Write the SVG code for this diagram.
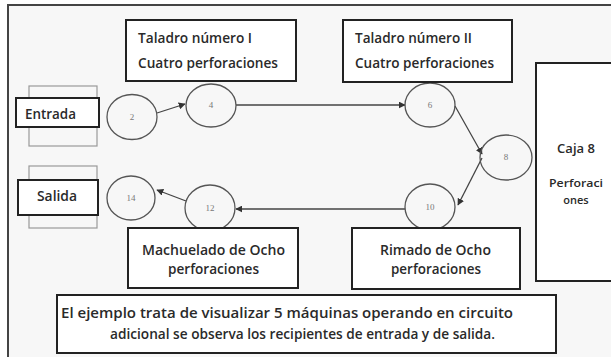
<svg xmlns="http://www.w3.org/2000/svg" width="611" height="357" viewBox="0 0 611 357">
<style>
.box{fill:#fff;stroke:#222;stroke-width:2}
.ghost{fill:none;stroke:#999;stroke-width:1.2}
.node{fill:none;stroke:#555;stroke-width:1.3}
.lbl{font-family:"Open Sans","Liberation Sans",Arial,sans-serif;font-weight:600;font-size:15px;fill:#2a2a2a}
.sm{font-family:"Open Sans","Liberation Sans",Arial,sans-serif;font-weight:600;fill:#2a2a2a;text-anchor:middle}
.num{font-family:"Liberation Serif","Times New Roman",serif;font-size:9px;fill:#777;text-anchor:middle}
.conn{stroke:#444;stroke-width:1.3;fill:none;marker-end:url(#ah)}
</style>
<defs>
<marker id="ah" viewBox="0 0 10 10" refX="9" refY="5" markerWidth="7" markerHeight="7" markerUnits="userSpaceOnUse" orient="auto"><path d="M0,0 L10,5 L0,10 z" fill="#333"/></marker>
</defs>
<rect x="0" y="0" width="611" height="357" fill="#fff"/>
<rect x="8" y="5" width="620" height="370" fill="#f7f7f7" stroke="#444" stroke-width="2"/>

<g id="connectors">
<line class="conn" x1="157" y1="113" x2="185" y2="104"/>
<line class="conn" x1="236" y1="105" x2="405" y2="105"/>
<line class="conn" x1="455" y1="106" x2="482" y2="154"/>
<line class="conn" x1="482" y1="158" x2="458" y2="205"/>
<line class="conn" x1="405" y1="209" x2="236" y2="209"/>
<line class="conn" x1="186" y1="201" x2="157" y2="190"/>
</g>

<g id="entrada">
<rect class="ghost" x="29" y="86" width="68" height="60"/>
<rect class="box" x="16" y="98" width="83" height="29"/>
<text class="lbl" x="25" y="119" textLength="51" lengthAdjust="spacingAndGlyphs">Entrada</text>
</g>
<g id="salida">
<rect class="ghost" x="29" y="166" width="68" height="62"/>
<rect class="box" x="18" y="180" width="80" height="35"/>
<text class="lbl" x="37" y="201" textLength="40" lengthAdjust="spacingAndGlyphs">Salida</text>
</g>

<g id="n2"><ellipse class="node" cx="132" cy="117" rx="25" ry="22.5"/><text class="num" x="132" y="120">2</text></g>
<g id="n4"><ellipse class="node" cx="211" cy="105.5" rx="25" ry="21.5"/><text class="num" x="211" y="108">4</text></g>
<g id="n6"><ellipse class="node" cx="430" cy="105" rx="25" ry="22"/><text class="num" x="430" y="108">6</text></g>
<g id="n8"><ellipse class="node" cx="506" cy="157.5" rx="26" ry="22.5"/><text class="num" x="506" y="160">8</text></g>
<g id="n10"><ellipse class="node" cx="430" cy="207" rx="25" ry="23"/><text class="num" x="430" y="210">10</text></g>
<g id="n12"><ellipse class="node" cx="210" cy="208" rx="25" ry="23"/><text class="num" x="210" y="211">12</text></g>
<g id="n14"><ellipse class="node" cx="131" cy="198" rx="24" ry="22"/><text class="num" x="131" y="201">14</text></g>

<g id="taladro1">
<rect class="box" x="126" y="20" width="170" height="61"/>
<text class="lbl" x="138" y="43" textLength="114" lengthAdjust="spacingAndGlyphs">Taladro número I</text>
<text class="lbl" x="138" y="68" textLength="140" lengthAdjust="spacingAndGlyphs">Cuatro perforaciones</text>
</g>
<g id="taladro2">
<rect class="box" x="343" y="20" width="169" height="62"/>
<text class="lbl" x="355" y="43" textLength="117" lengthAdjust="spacingAndGlyphs">Taladro número II</text>
<text class="lbl" x="355" y="68" textLength="139" lengthAdjust="spacingAndGlyphs">Cuatro perforaciones</text>
</g>
<g id="caja8">
<rect class="box" x="536" y="63" width="90" height="218"/>
<text class="sm" x="576" y="153" font-size="13">Caja 8</text>
<text class="sm" x="576" y="187" font-size="11" textLength="54" lengthAdjust="spacingAndGlyphs">Perforaci</text>
<text class="sm" x="576" y="204" font-size="11">ones</text>
</g>
<g id="machuelado">
<rect class="box" x="128" y="228" width="170" height="60"/>
<text class="lbl" x="142" y="255" textLength="143" lengthAdjust="spacingAndGlyphs">Machuelado de Ocho</text>
<text class="lbl" x="168" y="274" textLength="91" lengthAdjust="spacingAndGlyphs">perforaciones</text>
</g>
<g id="rimado">
<rect class="box" x="352" y="228" width="168" height="61"/>
<text class="lbl" x="380" y="255" textLength="111" lengthAdjust="spacingAndGlyphs">Rimado de Ocho</text>
<text class="lbl" x="391" y="274" textLength="90" lengthAdjust="spacingAndGlyphs">perforaciones</text>
</g>
<g id="nota">
<rect class="box" x="57" y="295" width="499" height="58"/>
<text class="lbl" x="61" y="318" textLength="452" lengthAdjust="spacingAndGlyphs">El ejemplo trata de visualizar 5 máquinas operando en circuito</text>
<text class="lbl" x="110" y="339" textLength="385" lengthAdjust="spacingAndGlyphs">adicional se observa los recipientes de entrada y de salida.</text>
</g>
</svg>
